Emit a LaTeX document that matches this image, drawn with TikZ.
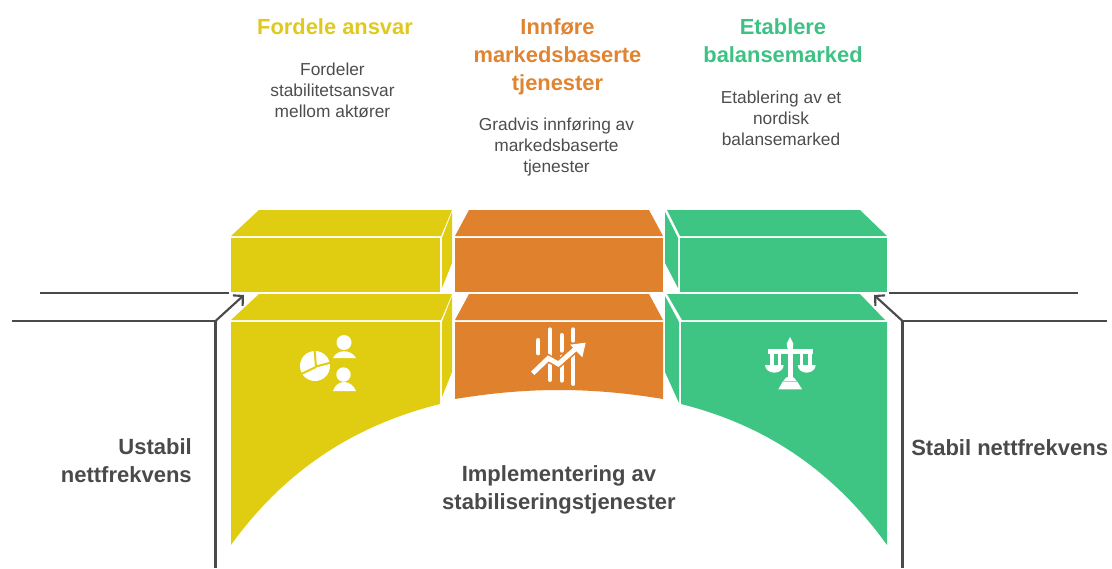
\documentclass[tikz,border=0pt]{standalone}
\usepackage{fontspec}
\setmainfont{Liberation Sans}
\usetikzlibrary{arrows.meta}
\definecolor{yel}{HTML}{E0CD12}
\definecolor{org}{HTML}{DF812D}
\definecolor{grn}{HTML}{3EC483}
\definecolor{ink}{HTML}{4A4A4A}
\definecolor{body}{HTML}{4D4D4D}
\definecolor{ytxt}{HTML}{E0C91F}
\definecolor{otxt}{HTML}{E08431}
\definecolor{gtxt}{HTML}{3DC283}
\tikzset{
  conn/.style={draw=ink,line width=1.6pt,line join=miter},
  arr/.style={conn,-{Straight Barb[angle=90:6pt 1,length=5.2pt]}},
  ttl/.style={align=center,font=\fontsize{16.4}{21}\selectfont\bfseries,inner sep=0pt},
  txt/.style={align=center,text=body,font=\fontsize{13}{15.75}\selectfont,inner sep=0pt},
  lab/.style={text=ink,font=\fontsize{16.5}{21}\selectfont\bfseries,inner sep=0pt},
  ico/.style={fill=white,draw=none}
}
\begin{document}
\begin{tikzpicture}[x=0.75pt,y=-0.75pt]
\useasboundingbox (0,0) rectangle (1112,568);
% upper blocks
\fill[yel] (231,236) -- (259,210) -- (452,210) -- (441,236) -- cycle;
\fill[yel] (231,238) rectangle (440,292);
\fill[yel] (442,238) -- (452,212) -- (452,263) -- (442,288) -- cycle;
\fill[org] (455,236) -- (469,210) -- (649,210) -- (663,236) -- cycle;
\fill[org] (455,238) rectangle (663,292);
\fill[grn] (667,210) -- (860,210) -- (887,236) -- (680,236) -- cycle;
\fill[grn] (680,238) rectangle (887,292);
\fill[grn] (665,212) -- (678,238) -- (678,288) -- (665,263) -- cycle;
% lower blocks
\fill[yel] (231,320) -- (259,294) -- (452,294) -- (441,320) -- cycle;
\fill[yel] (231,322) -- (440,322) -- (440,404) .. controls (355,425) and (285,470) .. (231,545) -- cycle;
\fill[yel] (442,322) -- (452,296) -- (452,372) -- (442,397) -- cycle;
\fill[org] (455,320) -- (469,294) -- (649,294) -- (663,320) -- cycle;
\fill[org] (455,322) -- (663,322) -- (663,399) .. controls (590,387) and (528,387) .. (455,399) -- cycle;
\fill[grn] (667,294) -- (860,294) -- (885,320) -- (682,320) -- cycle;
\fill[grn] (681,322) -- (887,322) -- (887,545) .. controls (833,470) and (765,425) .. (681,404) -- cycle;
\fill[grn] (665,296) -- (679,322) -- (679,403) -- (665,372) -- cycle;
% connectors
\coordinate (la) at (40,293); \coordinate (lb) at (229,293);
\coordinate (lc) at (12,321); \coordinate (ld) at (215.5,321);
\coordinate (le) at (215.5,568); \coordinate (lf) at (244,295);
\coordinate (ra) at (889,293); \coordinate (rb) at (1078,293);
\coordinate (rc) at (1107,321); \coordinate (rd) at (902.5,321);
\coordinate (re) at (902.5,568); \coordinate (rf) at (874,295);
\draw[conn] (la) -- (lb);
\draw[conn] (lc) -- (ld) -- (le);
\draw[arr] (ld) -- (lf);
\draw[conn] (ra) -- (rb);
\draw[conn] (rc) -- (rd) -- (re);
\draw[arr] (rd) -- (rf);
% yellow icon
\fill[ico] (315,366) circle[radius=15];
\draw[yel,line width=1.5pt] (316,367) -- (314.5,349);
\draw[yel,line width=1.5pt] (316,366.5) -- (333,362);
\draw[yel,line width=1.5pt] (316,367) -- (299,375);
\fill[ico] (344,342.5) circle[radius=7.5];
\fill[ico] (333,358) .. controls (337,349) and (351,349) .. (356,358) -- cycle;
\fill[ico] (343.5,374.5) circle[radius=7.2];
\fill[ico] (333,391) .. controls (337,379) and (351,379) .. (356,391) -- cycle;
% orange icon
\begin{scope}[shift={(520,320)},x=0.25pt,y=-0.25pt]
\foreach \xa/\ya/\yb in {55/60/100,90/28/110,125/45/92,160/28/62,90/130/180,125/110/182,160/98/192}
  \draw[white,line width=3pt,line cap=round] (\xa,\ya) -- (\xa,\yb);
\draw[org,line width=6pt,line join=miter] (38,160) -- (85,115) -- (115,132) -- (168,85);
\draw[white,line width=3.6pt,line join=miter] (38,160) -- (85,115) -- (115,132) -- (168,85);
\fill[white] (197,68) -- (150,74) -- (187,112) -- cycle;
\end{scope}
% green icon
\begin{scope}[shift={(750,325)},x=0.25pt,y=-0.25pt]
\fill[ico] (120,36) -- (130,56) -- (128,70) -- (112,70) -- (110,56) -- cycle;
\fill[ico] (113,65) rectangle (128,160);
\fill[ico] (55,73) rectangle (190,88);
\fill[ico] (60,84) rectangle (72,122);
\fill[ico] (84,84) rectangle (94,122);
\fill[ico] (150,84) rectangle (160,122);
\fill[ico] (174,84) rectangle (186,122);
\fill[ico] (45,120) arc[start angle=180,end angle=360,x radius=28,y radius=-23] -- cycle;
\fill[ico] (143,120) arc[start angle=180,end angle=360,x radius=27,y radius=-23] -- cycle;
\fill[ico] (100,168) .. controls (106,150) and (134,150) .. (140,168) -- cycle;
\fill[ico] (98,170) -- (142,170) -- (156,193) -- (85,193) -- cycle;
\end{scope}
% texts
\node[ttl,text=ytxt] (t1) at (335,27) {Fordele ansvar};
\node[txt] (b1) at (332.5,90) {Fordeler\\stabilitetsansvar\\mellom aktører};
\node[ttl,text=otxt] (t2) at (557.5,57) {Innføre\\markedsbaserte\\tjenester};
\node[txt] (b2) at (556.5,147) {Gradvis innføring av\\markedsbaserte\\tjenester};
\node[ttl,text=gtxt] (t3) at (783,41) {Etablere\\balansemarked};
\node[txt] (b3) at (781,118) {Etablering av et\\nordisk\\balansemarked};
\node[lab,align=right,anchor=east] (l1) at (192,461) {Ustabil\\nettfrekvens};
\node[lab,anchor=west] (l2) at (911,448) {Stabil nettfrekvens};
\node[lab,align=center] (l3) at (559,490) {Implementering av\\stabiliseringstjenester};
\end{tikzpicture}
\end{document}
